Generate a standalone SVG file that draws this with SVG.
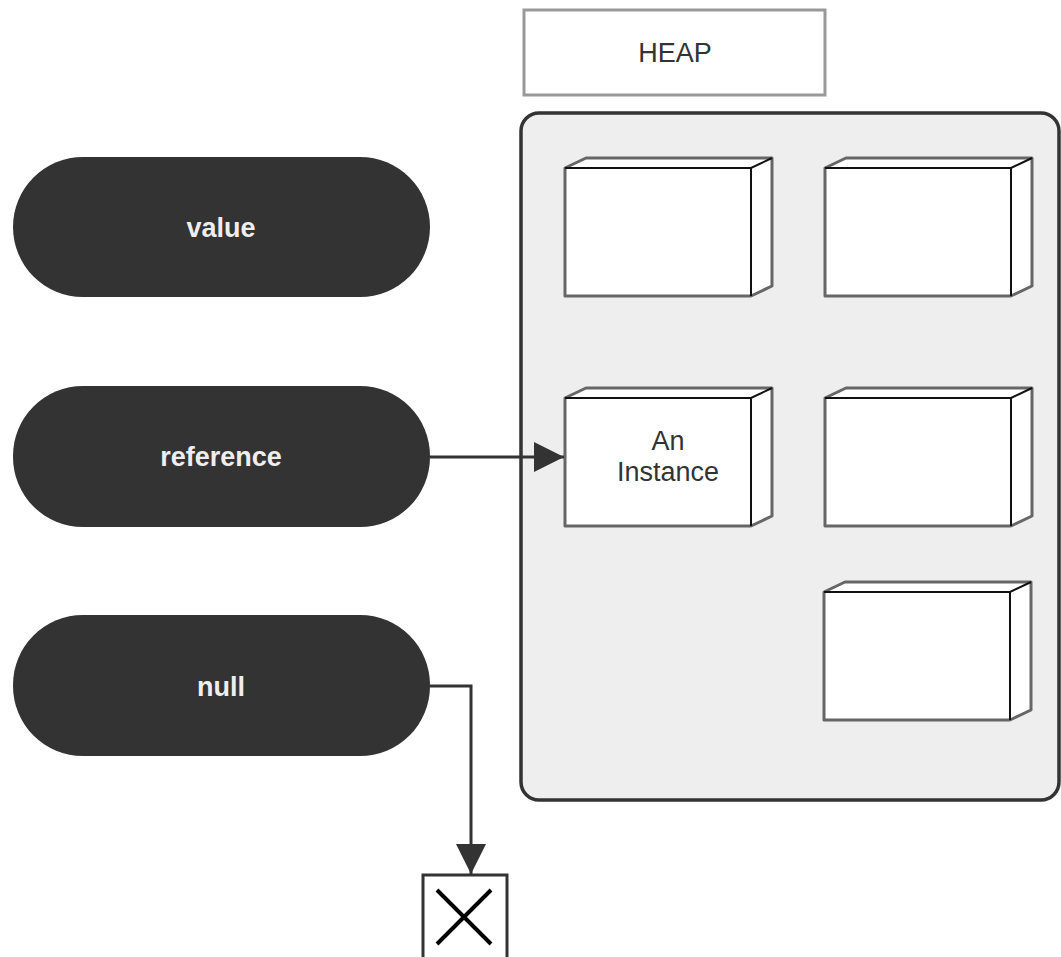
<svg xmlns="http://www.w3.org/2000/svg" width="1061" height="957" viewBox="0 0 1061 957">
<style>
.pill{fill:#333333;}
.pt{font-family:"Liberation Sans",Arial,sans-serif;font-size:27px;font-weight:bold;fill:#eeeeee;text-anchor:middle;}
.t{font-family:"Liberation Sans",Arial,sans-serif;font-size:27px;fill:#333333;text-anchor:middle;}
.face{fill:#ffffff;stroke:#666666;stroke-width:3;stroke-linejoin:round;}
.edge{fill:none;stroke:#111111;stroke-width:2;}
.conn{fill:none;stroke:#333333;stroke-width:3;}
</style>
<defs>
<marker id="arr" viewBox="0 0 10 10" refX="10" refY="5" markerWidth="10.5" markerHeight="10" markerUnits="strokeWidth" orient="auto">
<path d="M0,0 L10,5 L0,10 Z" fill="#333333"/>
</marker>
<g id="cube">
<path class="face" d="M0,0 L21,-10 L207,-10 L207,118 L186,128 L0,128 Z"/>
<path class="edge" d="M0,0 L186,0 L207,-10 M186,0 L186,128"/>
</g>
</defs>
<g id="heap-label">
<rect x="524" y="10" width="301" height="85" fill="#ffffff" stroke="#999999" stroke-width="3"/>
<text class="t" x="675" y="62">HEAP</text>
</g>
<g id="heap">
<rect x="521" y="113" width="538" height="687" rx="18" ry="18" fill="#eeeeee" stroke="#333333" stroke-width="3.5"/>
</g>
<g id="box1"><use href="#cube" x="565" y="168"/></g>
<g id="box2"><use href="#cube" x="825" y="168"/></g>
<g id="instance">
<use href="#cube" x="565" y="398"/>
<text class="t" x="668" y="450">An</text>
<text class="t" x="668" y="481">Instance</text>
</g>
<g id="box4"><use href="#cube" x="825" y="398"/></g>
<g id="box5"><use href="#cube" x="824" y="592"/></g>
<g id="value">
<rect class="pill" x="13" y="157" width="417" height="140" rx="70" ry="70"/>
<text class="pt" x="221" y="237">value</text>
</g>
<g id="reference">
<rect class="pill" x="13" y="386" width="417" height="141" rx="70" ry="70"/>
<text class="pt" x="221" y="466">reference</text>
</g>
<g id="null">
<rect class="pill" x="13" y="615" width="417" height="141" rx="70" ry="70"/>
<text class="pt" x="221" y="696">null</text>
</g>
<g id="null-target">
<rect x="423" y="875" width="84" height="90" fill="#ffffff" stroke="#333333" stroke-width="3"/>
<path d="M437,890 L491,944 M491,890 L437,944" stroke="#000000" stroke-width="4" fill="none"/>
</g>
<g id="connectors">
<path class="conn" d="M430,457 L564,457" marker-end="url(#arr)"/>
<path class="conn" d="M430,686 L471,686 L471,874" marker-end="url(#arr)"/>
</g>
</svg>
